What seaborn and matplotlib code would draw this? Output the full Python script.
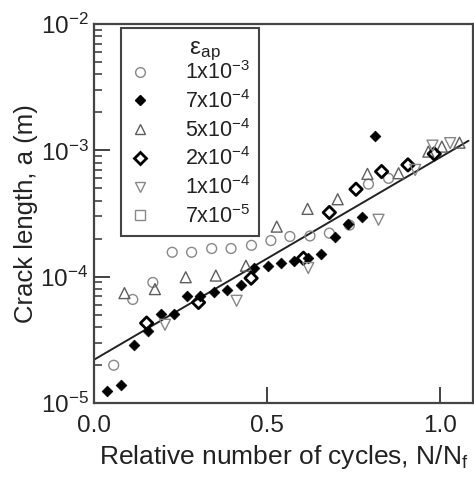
import numpy as np
import pandas as pd
import matplotlib
matplotlib.use("Agg")
import matplotlib.pyplot as plt
from matplotlib.lines import Line2D
import seaborn as sns

# ---- data ----
x_1e3 = [0.057, 0.112, 0.170, 0.226, 0.282, 0.340, 0.396, 0.455, 0.511, 0.566, 0.624, 0.680, 0.738, 0.793, 0.851]
a_1e3 = [1.99e-5, 6.6e-5, 9.0e-5, 1.56e-4, 1.56e-4, 1.67e-4, 1.67e-4, 1.77e-4, 1.93e-4, 2.08e-4, 2.1e-4, 2.21e-4, 2.56e-4, 5.4e-4, 6.0e-4]

x_7e4 = [0.0385, 0.077, 0.117, 0.155, 0.194, 0.230, 0.270, 0.306, 0.348, 0.384, 0.424, 0.462, 0.502, 0.540, 0.579, 0.618, 0.656, 0.697, 0.735, 0.774, 0.812]
a_7e4 = [1.24e-5, 1.40e-5, 2.86e-5, 3.69e-5, 5.08e-5, 5.08e-5, 6.97e-5, 6.97e-5, 7.5e-5, 7.87e-5, 8.62e-5, 1.17e-4, 1.22e-4, 1.28e-4, 1.33e-4, 1.40e-4, 1.52e-4, 2.05e-4, 2.62e-4, 2.94e-4, 1.30e-3]

x_5e4 = [0.088, 0.176, 0.265, 0.352, 0.439, 0.528, 0.617, 0.704, 0.790, 0.880, 0.966, 1.005, 1.056]
a_5e4 = [7.41e-5, 7.97e-5, 9.9e-5, 1.02e-4, 1.22e-4, 2.49e-4, 3.44e-4, 4.1e-4, 6.51e-4, 6.59e-4, 9.77e-4, 1.07e-3, 1.15e-3]

x_2e4 = [0.152, 0.302, 0.454, 0.605, 0.680, 0.757, 0.831, 0.907, 0.983]
a_2e4 = [4.29e-5, 6.25e-5, 9.73e-5, 1.40e-4, 3.22e-4, 4.92e-4, 6.79e-4, 7.67e-4, 9.37e-4]

x_1e4 = [0.205, 0.412, 0.619, 0.822, 0.928, 0.978, 1.029]
a_1e4 = [4.16e-5, 6.44e-5, 1.17e-4, 2.82e-4, 7.0e-4, 1.09e-3, 1.14e-3]

x_7e5 = []
a_7e5 = []

fit_x = [0.0, 1.082]
fit_a = [2.2e-5, 1.19e-3]

labels = [r"1x10$^{-3}$", r"7x10$^{-4}$", r"5x10$^{-4}$", r"2x10$^{-4}$", r"1x10$^{-4}$", r"7x10$^{-5}$"]
legend_title = "ε$_{\\rm ap}$"
xticks = [0.0, 0.5, 1.0]
xticklabels = ["0.0", "0.5", "1.0"]

# ---- style ----
sns.set_theme(style="ticks")
plt.rcParams["font.family"] = ["Liberation Sans", "DejaVu Sans"]
plt.rcParams["mathtext.fontset"] = "custom"
plt.rcParams["mathtext.rm"] = "Liberation Sans"
plt.rcParams["mathtext.it"] = "Liberation Sans:italic"
plt.rcParams["mathtext.bf"] = "Liberation Sans:bold"

txt = "#222222"
gray = "#888888"
dgray = "#5e5e5e"

fig = plt.figure(figsize=(4.74, 4.79), dpi=100)
ax = fig.add_axes([94/474, 1 - 403/479, 379/474, 379/479])

series = [
    (x_1e3, a_1e3, dict(marker="o", s=50, facecolors="none", edgecolors=gray, linewidths=1.0)),
    (x_7e4, a_7e4, dict(marker="D", s=30, facecolors="black", edgecolors="black", linewidths=0.5)),
    (x_5e4, a_5e4, dict(marker="^", s=62, facecolors="none", edgecolors=dgray, linewidths=1.0)),
    (x_2e4, a_2e4, dict(marker="D", s=40, facecolors="none", edgecolors="black", linewidths=2.0)),
    (x_1e4, a_1e4, dict(marker="v", s=62, facecolors="none", edgecolors=gray, linewidths=1.0)),
    (x_7e5, a_7e5, dict(marker="s", s=48, facecolors="none", edgecolors=gray, linewidths=1.0)),
]

for xs, ys, kw in series:
    if len(xs):
        df = pd.DataFrame({"x": xs, "a": ys})
        sns.scatterplot(data=df, x="x", y="a", ax=ax, zorder=3, **kw)

fit_df = pd.DataFrame({"x": fit_x, "a": fit_a})
sns.lineplot(data=fit_df, x="x", y="a", ax=ax, color="#222222", linewidth=1.4, zorder=2)

ax.set_yscale("log")
ax.set_xlim(0, 1.095)
ax.set_ylim(1e-5, 1e-2)
ax.set_xticks(xticks)
ax.set_xticklabels(xticklabels)
ax.xaxis.set_minor_locator(matplotlib.ticker.NullLocator())

ax.tick_params(axis="both", which="major", direction="in", length=11.5, width=1.3,
               colors="#333333", labelcolor=txt, labelsize=17.5)
ax.tick_params(axis="y", which="minor", direction="in", length=5.5, width=1.1, colors="#333333")
ax.tick_params(axis="x", which="major", pad=9)
ax.tick_params(axis="y", which="major", pad=4)

for sp in ax.spines.values():
    sp.set_visible(True)
    sp.set_linewidth(1.6)
    sp.set_color("#444444")

ax.set_xlabel(r"Relative number of cycles, N/N$_{\rm f}$", fontsize=19, color=txt, labelpad=4)
ax.set_ylabel("Crack length, a (m)", fontsize=18.5, color=txt, labelpad=2)

# legend
handles = [
    Line2D([], [], linestyle="none", marker="o", markersize=7, markerfacecolor="none", markeredgecolor=gray, markeredgewidth=1.0),
    Line2D([], [], linestyle="none", marker="D", markersize=5.5, markerfacecolor="black", markeredgecolor="black"),
    Line2D([], [], linestyle="none", marker="^", markersize=7.5, markerfacecolor="none", markeredgecolor=dgray, markeredgewidth=1.0),
    Line2D([], [], linestyle="none", marker="D", markersize=6, markerfacecolor="none", markeredgecolor="black", markeredgewidth=2.0),
    Line2D([], [], linestyle="none", marker="v", markersize=7.5, markerfacecolor="none", markeredgecolor=gray, markeredgewidth=1.0),
    Line2D([], [], linestyle="none", marker="s", markersize=7, markerfacecolor="none", markeredgecolor=gray, markeredgewidth=1.0),
]
leg = ax.legend(handles, labels, loc="upper left", bbox_to_anchor=(0.07, 0.989),
                borderaxespad=0, fontsize=15.5, title="         " + legend_title,
                title_fontsize=17.5, frameon=True, fancybox=False,
                handlelength=1.0, handletextpad=1.6, labelspacing=0.27,
                borderpad=0.4, markerfirst=True, alignment="left")
leg._legend_box.sep = -1.0
leg.get_frame().set_edgecolor("#444444")
leg.get_frame().set_linewidth(1.5)
leg.get_frame().set_alpha(1)
for t in leg.get_texts():
    t.set_color(txt)
leg.get_title().set_color(txt)

fig.savefig("out.png", dpi=100)
